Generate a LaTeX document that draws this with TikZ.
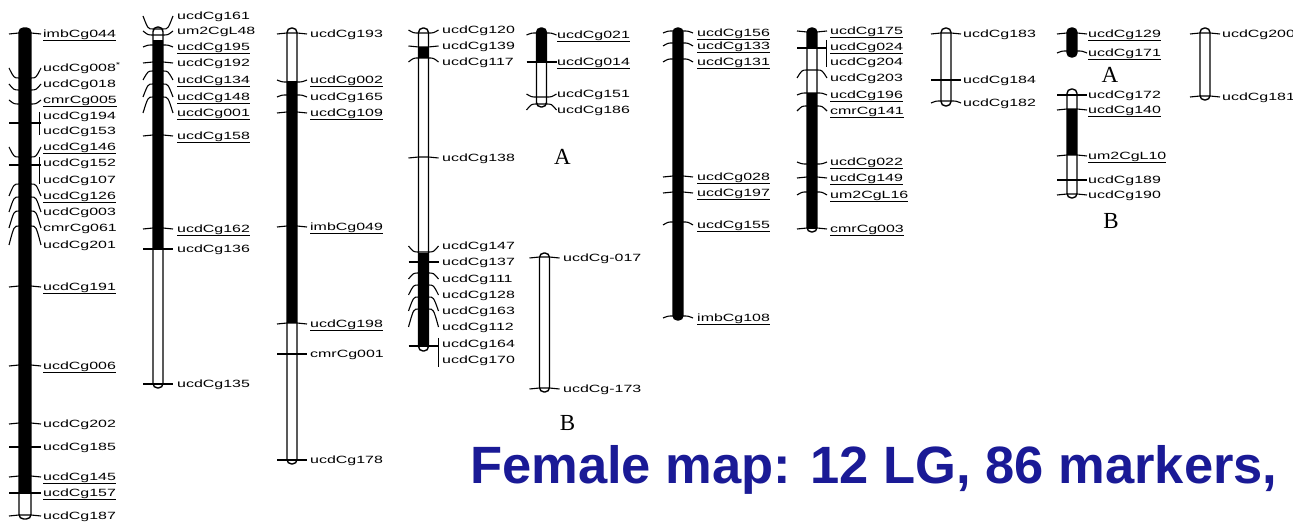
\documentclass[tikz,border=0pt]{standalone}
\usepackage{fontspec}
\setmainfont{Liberation Sans}
\newfontfamily\lblf[FakeStretch=1.52]{Liberation Sans}
\newfontfamily\timesf{Liberation Serif}
\definecolor{femblue}{RGB}{26,26,150}
\newcommand\uln[1]{\setbox0\hbox{#1}\rlap{\rule[-3.6pt]{\wd0}{1.2pt}}\box0}
\newcommand\chrom[3]{%
  \begin{scope}
    \clip[rounded corners=4.5] (-\bw,#1) rectangle (\bw,#2);
    \foreach \a/\b in {#3} {\fill (-\bw,\a) rectangle (\bw,\b);}
  \end{scope}
  \draw[barline, rounded corners=4.5] (-\bw,#1) rectangle (\bw,#2);}
\newcommand\tk[2]{\draw[tick] (-\bw-10,#2) .. controls (-\bw-5,#1) .. (-\bw,#1) -- (\bw,#1) .. controls (\bw+5,#1) .. (\bw+10,#2);}
\newcommand\lb[3]{\node[lbl] (#2) at (\lx,#1+3.7) {#3};}
\newcommand\mk[4]{\tk{#1}{#2}\lb{#2}{#3}{#4}}
\newcommand\brk[2]{\draw[brk] (\lx-4,#1) -- (\lx-4,#2);}
\begin{document}
\begin{tikzpicture}[x=1pt,y=-1pt,
  barline/.style={line width=1.4pt},
  tick/.style={line width=1.1pt},
  brk/.style={line width=1pt},
  lbl/.style={anchor=base west, inner sep=0pt, font=\lblf\fontsize{10.5}{11}\selectfont},
  letter/.style={inner sep=0pt, font=\timesf\fontsize{23}{23}\selectfont}]
\useasboundingbox[fill=white] (0,0) rectangle (1293,526);
% LG1
\begin{scope}[xshift=25]
\def\bw{6}\def\lx{18}
\chrom{28}{519}{28/493}
\mk{33}{34}{imbCg044}{\uln{imbCg044}}
\mk{78}{68}{ucdCg008}{ucdCg008\textsuperscript{*}}
\mk{90}{84}{ucdCg018}{ucdCg018}
\mk{104}{100}{cmrCg005}{\uln{cmrCg005}}
\tk{123}{123}\lb{116}{ucdCg194}{ucdCg194}\lb{131}{ucdCg153}{ucdCg153}\brk{112}{135}
\mk{157}{147}{ucdCg146}{\uln{ucdCg146}}
\tk{165}{165}\lb{163}{ucdCg152}{ucdCg152}\lb{180}{ucdCg107}{ucdCg107}\brk{157}{184}
\mk{184}{196}{ucdCg126}{\uln{ucdCg126}}
\mk{197}{212}{ucdCg003}{ucdCg003}
\mk{211}{228}{cmrCg061}{cmrCg061}
\mk{226}{245}{ucdCg201}{ucdCg201}
\mk{286}{287}{ucdCg191}{\uln{ucdCg191}}
\mk{365}{366}{ucdCg006}{\uln{ucdCg006}}
\mk{423}{424}{ucdCg202}{ucdCg202}
\mk{447}{447}{ucdCg185}{ucdCg185}
\mk{476}{477}{ucdCg145}{\uln{ucdCg145}}
\mk{493}{493}{ucdCg157}{\uln{ucdCg157}}
\mk{515}{516}{ucdCg187}{ucdCg187}
\end{scope}
% LG2
\begin{scope}[xshift=158]
\def\bw{5}\def\lx{19}
\chrom{27}{388}{40/249}
\mk{29}{16}{ucdCg161}{ucdCg161}
\mk{35}{31}{um2CgL48}{um2CgL48}
\mk{45}{47}{ucdCg195}{\uln{ucdCg195}}
\mk{62}{63}{ucdCg192}{ucdCg192}
\mk{71}{80}{ucdCg134}{\uln{ucdCg134}}
\mk{84}{97}{ucdCg148}{\uln{ucdCg148}}
\mk{97}{113}{ucdCg001}{\uln{ucdCg001}}
\mk{135}{136}{ucdCg158}{\uln{ucdCg158}}
\mk{228}{229}{ucdCg162}{\uln{ucdCg162}}
\mk{249}{249}{ucdCg136}{ucdCg136}
\mk{384}{384}{ucdCg135}{ucdCg135}
\end{scope}
% LG3
\begin{scope}[xshift=292]
\def\bw{5}\def\lx{18}
\chrom{28}{464}{81/323}
\mk{33}{34}{ucdCg193}{ucdCg193}
\mk{82}{80}{ucdCg002}{\uln{ucdCg002}}
\mk{95}{97}{ucdCg165}{ucdCg165}
\mk{112}{113}{ucdCg109}{\uln{ucdCg109}}
\mk{226}{227}{imbCg049}{\uln{imbCg049}}
\mk{323}{324}{ucdCg198}{\uln{ucdCg198}}
\mk{354}{354}{cmrCg001}{cmrCg001}
\mk{460}{460}{ucdCg178}{ucdCg178}
\end{scope}
% LG4
\begin{scope}[xshift=423.5]
\def\bw{5}\def\lx{18.5}
\chrom{28}{351}{47/58,253/345}
\mk{33}{30}{ucdCg120}{ucdCg120}
\mk{47}{46}{ucdCg139}{ucdCg139}
\mk{58}{62}{ucdCg117}{ucdCg117}
\mk{157}{158}{ucdCg138}{ucdCg138}
\mk{252}{246}{ucdCg147}{ucdCg147}
\mk{262}{262}{ucdCg137}{ucdCg137}
\mk{273}{279}{ucdCg111}{ucdCg111}
\mk{285}{295}{ucdCg128}{ucdCg128}
\mk{297}{311}{ucdCg163}{ucdCg163}
\mk{309}{327}{ucdCg112}{ucdCg112}
\tk{346}{346}\lb{344}{ucdCg164}{ucdCg164}\lb{360}{ucdCg170}{ucdCg170}\brk{338}{367}
\end{scope}
% LG5 A
\begin{scope}[xshift=541.5]
\def\bw{5}\def\lx{15.5}
\chrom{28}{107}{28/62}
\mk{33}{35}{ucdCg021}{\uln{ucdCg021}}
\mk{62}{62}{ucdCg014}{\uln{ucdCg014}}
\mk{97}{94}{ucdCg151}{ucdCg151}
\mk{104}{110}{ucdCg186}{ucdCg186}
\node[letter] (lgA1) at (21,157) {A};
\end{scope}
% LG5 B
\begin{scope}[xshift=544.5]
\def\bw{5}\def\lx{18.5}
\chrom{253}{392}{0/0}
\mk{257}{258}{m017}{ucdCg-017}
\mk{388}{389}{m173}{ucdCg-173}
\node[letter] (lgB1) at (23,423) {B};
\end{scope}
% LG6
\begin{scope}[xshift=678]
\def\bw{5}\def\lx{19}
\chrom{28}{320}{28/320}
\mk{31}{33}{ucdCg156}{\uln{ucdCg156}}
\mk{43}{46}{ucdCg133}{\uln{ucdCg133}}
\mk{59}{62}{ucdCg131}{\uln{ucdCg131}}
\mk{176}{177}{ucdCg028}{\uln{ucdCg028}}
\mk{192}{193}{ucdCg197}{\uln{ucdCg197}}
\mk{222}{225}{ucdCg155}{\uln{ucdCg155}}
\mk{316}{318}{imbCg108}{\uln{imbCg108}}
\end{scope}
% LG7
\begin{scope}[xshift=812]
\def\bw{5}\def\lx{18}
\chrom{28}{232}{28/47,93/229}
\mk{32}{31}{ucdCg175}{\uln{ucdCg175}}
\tk{48}{48}\lb{47}{ucdCg024}{\uln{ucdCg024}}\lb{62}{ucdCg204}{ucdCg204}\brk{40}{67}
\mk{70}{78}{ucdCg203}{ucdCg203}
\mk{93}{95}{ucdCg196}{\uln{ucdCg196}}
\mk{106}{111}{cmrCg141}{\uln{cmrCg141}}
\mk{164}{162}{ucdCg022}{\uln{ucdCg022}}
\mk{177}{178}{ucdCg149}{\uln{ucdCg149}}
\mk{192}{195}{um2CgL16}{\uln{um2CgL16}}
\mk{228}{229}{cmrCg003}{\uln{cmrCg003}}
\end{scope}
% LG8
\begin{scope}[xshift=946]
\def\bw{5}\def\lx{17}
\chrom{28}{106}{0/0}
\mk{33}{34}{ucdCg183}{ucdCg183}
\mk{80}{80}{ucdCg184}{ucdCg184}
\mk{101}{103}{ucdCg182}{ucdCg182}
\end{scope}
% LG9 A and B
\begin{scope}[xshift=1072]
\def\bw{5}\def\lx{16}
\chrom{28}{57}{28/57}
\mk{33}{34}{ucdCg129}{\uln{ucdCg129}}
\mk{51}{53}{ucdCg171}{\uln{ucdCg171}}
\node[letter] (lgA2) at (38,75) {A};
\chrom{89}{198}{109/155}
\mk{95}{95}{ucdCg172}{ucdCg172}
\mk{109}{110}{ucdCg140}{\uln{ucdCg140}}
\mk{155}{156}{um2CgL10}{\uln{um2CgL10}}
\mk{180}{180}{ucdCg189}{ucdCg189}
\mk{194}{195}{ucdCg190}{ucdCg190}
\node[letter] (lgB2) at (39,221) {B};
\end{scope}
% LG10
\begin{scope}[xshift=1205]
\def\bw{5}\def\lx{17}
\chrom{28}{100}{0/0}
\mk{33}{34}{ucdCg200}{ucdCg200}
\mk{96}{97}{ucdCg181}{ucdCg181}
\end{scope}
\node[anchor=base west, inner sep=0pt, text=femblue, font=\bfseries\fontsize{52.5}{52.5}\selectfont] (title) at (470,483) {Female map: 12 LG, 86 markers, };
\end{tikzpicture}
\end{document}
